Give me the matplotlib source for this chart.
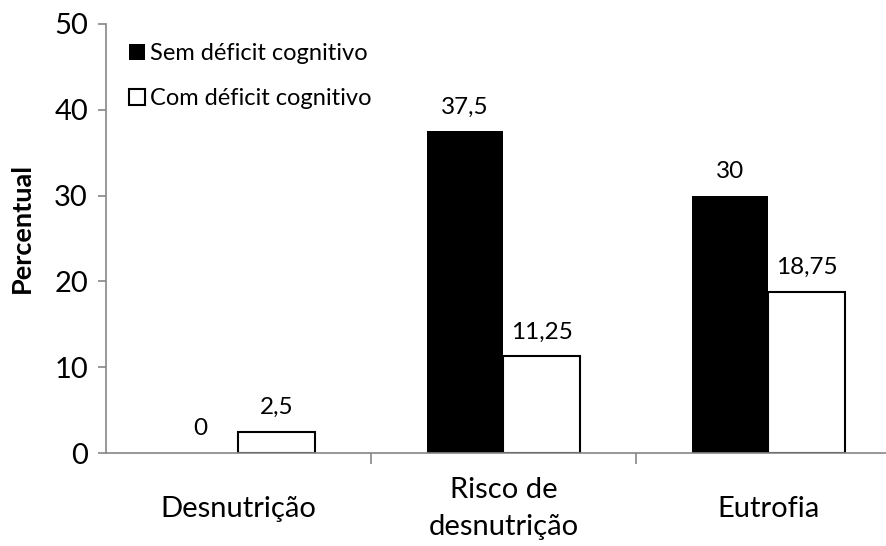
import matplotlib.pyplot as plt
import numpy as np

plt.rcParams['font.family'] = ['Lato', 'DejaVu Sans']

categorias = ['Desnutrição', 'Risco de\ndesnutrição', 'Eutrofia']
sem_deficit = [0, 37.5, 30]
com_deficit = [2.5, 11.25, 18.75]
rotulos_sem = ['0', '37,5', '30']
rotulos_com = ['2,5', '11,25', '18,75']

cinza = '#868686'
W, H = 887, 546
fig = plt.figure(figsize=(W / 100, H / 100), dpi=100)
# eixo vai alem da borda direita, como no original
ax = fig.add_axes([106 / W, (H - 453) / H, (901 - 106) / W, (453 - 24) / H])

x = np.arange(len(categorias))
larg = 0.29
b1 = ax.bar(x - larg / 2, sem_deficit, larg, color='black', linewidth=0,
            label='Sem déficit cognitivo')
b2 = ax.bar(x + larg / 2, com_deficit, larg, color='white', edgecolor='black', linewidth=1.5,
            label='Com déficit cognitivo')

for xi, v, t in zip(x - larg / 2, sem_deficit, rotulos_sem):
    ax.annotate(t, (xi, v), xytext=(0, 10), textcoords='offset points', ha='center', va='bottom', fontsize=17.5)
for xi, v, t in zip(x + larg / 2, com_deficit, rotulos_com):
    ax.annotate(t, (xi, v), xytext=(0, 10), textcoords='offset points', ha='center', va='bottom', fontsize=17.5)

ax.set_xlim(-0.5, 2.5)
ax.set_ylim(0, 50)
ax.set_yticks([0, 10, 20, 30, 40, 50])
ax.tick_params(axis='y', labelsize=21, color=cinza, length=6, width=1.2, pad=7)
# marcas do eixo x entre as categorias
ax.set_xticks([0.5, 1.5, 2.5])
ax.set_xticklabels([])
ax.set_xticks(x, minor=True)
ax.set_xticklabels(categorias, minor=True, fontsize=21, linespacing=1.55, va='center')
ax.tick_params(axis='x', which='major', color=cinza, length=8, width=1.2)
ax.tick_params(axis='x', which='minor', length=0, pad=40)

for s in ['top', 'right']:
    ax.spines[s].set_visible(False)
for s in ['left', 'bottom']:
    ax.spines[s].set_color(cinza)
    ax.spines[s].set_linewidth(1.2)

ax.set_ylabel('Percentual', fontsize=19.5, fontweight='bold')
ax.yaxis.set_label_coords(-0.091, 0.524)

ax.legend(loc='upper left', bbox_to_anchor=(120 / W, (H - 34) / H), bbox_transform=fig.transFigure,
          frameon=False, fontsize=17, handlelength=0.65, handleheight=0.65, handletextpad=0.2,
          labelspacing=1.0, borderaxespad=0)

fig.savefig('out.png', dpi=100)
